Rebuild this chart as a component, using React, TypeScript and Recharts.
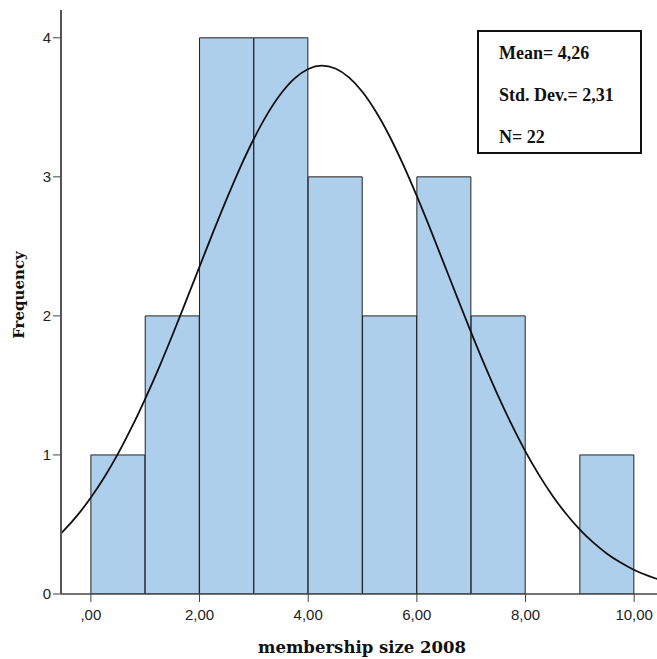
import { Bar, ComposedChart, Label, Line, XAxis, YAxis } from "recharts";

// histogram bins (width 1) and counts
const binStarts = [0, 1, 2, 3, 4, 5, 6, 7, 8, 9];
const binCounts = [1, 2, 4, 4, 3, 2, 3, 2, 0, 1];

// fitted normal curve
const curveX = [
  -0.75, -0.5, -0.25, 0, 0.25, 0.5, 0.75, 1, 1.25, 1.5, 1.75, 2, 2.25, 2.5, 2.75, 3, 3.25,
  3.5, 3.75, 4, 4.25, 4.5, 4.75, 5, 5.25, 5.5, 5.75, 6, 6.25, 6.5, 6.75, 7, 7.25, 7.5,
  7.75, 8, 8.25, 8.5, 8.75, 9, 9.25, 9.5, 9.75, 10, 10.25, 10.5,
];
const curveY = [
  0.362, 0.455, 0.565, 0.694, 0.842, 1.01, 1.198, 1.404, 1.625, 1.861, 2.106, 2.354, 2.602,
  2.842, 3.069, 3.274, 3.453, 3.599, 3.708, 3.776, 3.8, 3.779, 3.715, 3.61, 3.466, 3.29,
  3.086, 2.861, 2.622, 2.374, 2.126, 1.88, 1.644, 1.421, 1.214, 1.024, 0.855, 0.705, 0.575,
  0.463, 0.369, 0.29, 0.226, 0.173, 0.132, 0.099,
];

const xTicks = [0, 2, 4, 6, 8, 10];
const xTickLabels = [",00", "2,00", "4,00", "6,00", "8,00", "10,00"];
const yTicks = [0, 1, 2, 3, 4];
const statLines = ["Mean= 4,26", "Std. Dev.= 2,31", "N= 22"];

const xDomain: [number, number] = [-0.55, 10.42];

const barData = binStarts.map((s, i) => ({ mid: s + 0.5, count: binCounts[i] }));
const curveData = curveX.map((x, i) => ({ x, y: curveY[i] }));

const tickStyle = { fontSize: 15, fill: "#222", fontFamily: "Liberation Sans, Arial, sans-serif" };
const titleFont = "DejaVu Serif, serif";

export default function App() {
  return (
    <div style={{ position: "absolute", left: 0, top: 0, width: 657, height: 659, background: "#fff" }}>
      <ComposedChart
        width={657}
        height={659}
        data={barData}
        barCategoryGap={0}
        barGap={0}
        margin={{ top: 10, right: 0, bottom: 0, left: 0 }}
      >
        <XAxis
          xAxisId="bins"
          dataKey="mid"
          type="number"
          domain={xDomain}
          allowDataOverflow
          ticks={xTicks}
          tickFormatter={(v: number) => xTickLabels[xTicks.indexOf(v)] ?? String(v)}
          tick={tickStyle}
          tickSize={8}
          tickMargin={7}
          tickLine={{ stroke: "#444" }}
          axisLine={{ stroke: "#444", strokeWidth: 1.5 }}
          height={65}
        >
          <Label
            value="membership size 2008"
            position="insideBottom"
            offset={6}
            dx={3}
            style={{ fontFamily: titleFont, fontWeight: "bold", fontSize: 16.5, fill: "#111" }}
          />
        </XAxis>
        <XAxis
          xAxisId="curve"
          dataKey="x"
          type="number"
          orientation="top"
          domain={xDomain}
          allowDataOverflow
          tick={false}
          tickLine={false}
          axisLine={{ stroke: "#999", strokeWidth: 2 }}
          height={0}
        />
        <YAxis
          domain={[0, 4.2]}
          allowDataOverflow
          ticks={yTicks}
          tick={tickStyle}
          tickSize={8}
          tickMargin={2}
          tickLine={{ stroke: "#444" }}
          axisLine={{ stroke: "#555", strokeWidth: 2 }}
          width={61}
        >
          <Label
            content={({ viewBox }) => {
              const vb = viewBox as { x: number; y: number; width: number; height: number };
              const cx = vb.x + 19;
              const cy = vb.y + vb.height / 2 - 7;
              return (
                <text
                  x={cx}
                  y={cy}
                  transform={`rotate(-90 ${cx} ${cy})`}
                  textAnchor="middle"
                  dominantBaseline="central"
                  style={{ fontFamily: titleFont, fontWeight: "bold", fontSize: 15, fill: "#111" }}
                >
                  Frequency
                </text>
              );
            }}
          />
        </YAxis>
        <Bar
          xAxisId="bins"
          dataKey="count"
          fill="#aecfec"
          stroke="#222"
          strokeWidth={1}
          isAnimationActive={false}
        />
        <Line
          xAxisId="curve"
          data={curveData}
          dataKey="y"
          type="monotone"
          stroke="#111"
          strokeWidth={1.8}
          dot={false}
          activeDot={false}
          isAnimationActive={false}
        />
      </ComposedChart>
      <div
        style={{
          position: "absolute",
          left: 477,
          top: 30,
          width: 165,
          height: 124,
          boxSizing: "border-box",
          border: "2px solid #111",
          background: "#fff",
          paddingLeft: 20,
          fontFamily: "Liberation Serif, Times New Roman, serif",
          fontWeight: "bold",
          fontSize: 18,
          lineHeight: "42px",
          color: "#111",
        }}
      >
        {statLines.map((s) => (
          <div key={s}>{s}</div>
        ))}
      </div>
    </div>
  );
}
